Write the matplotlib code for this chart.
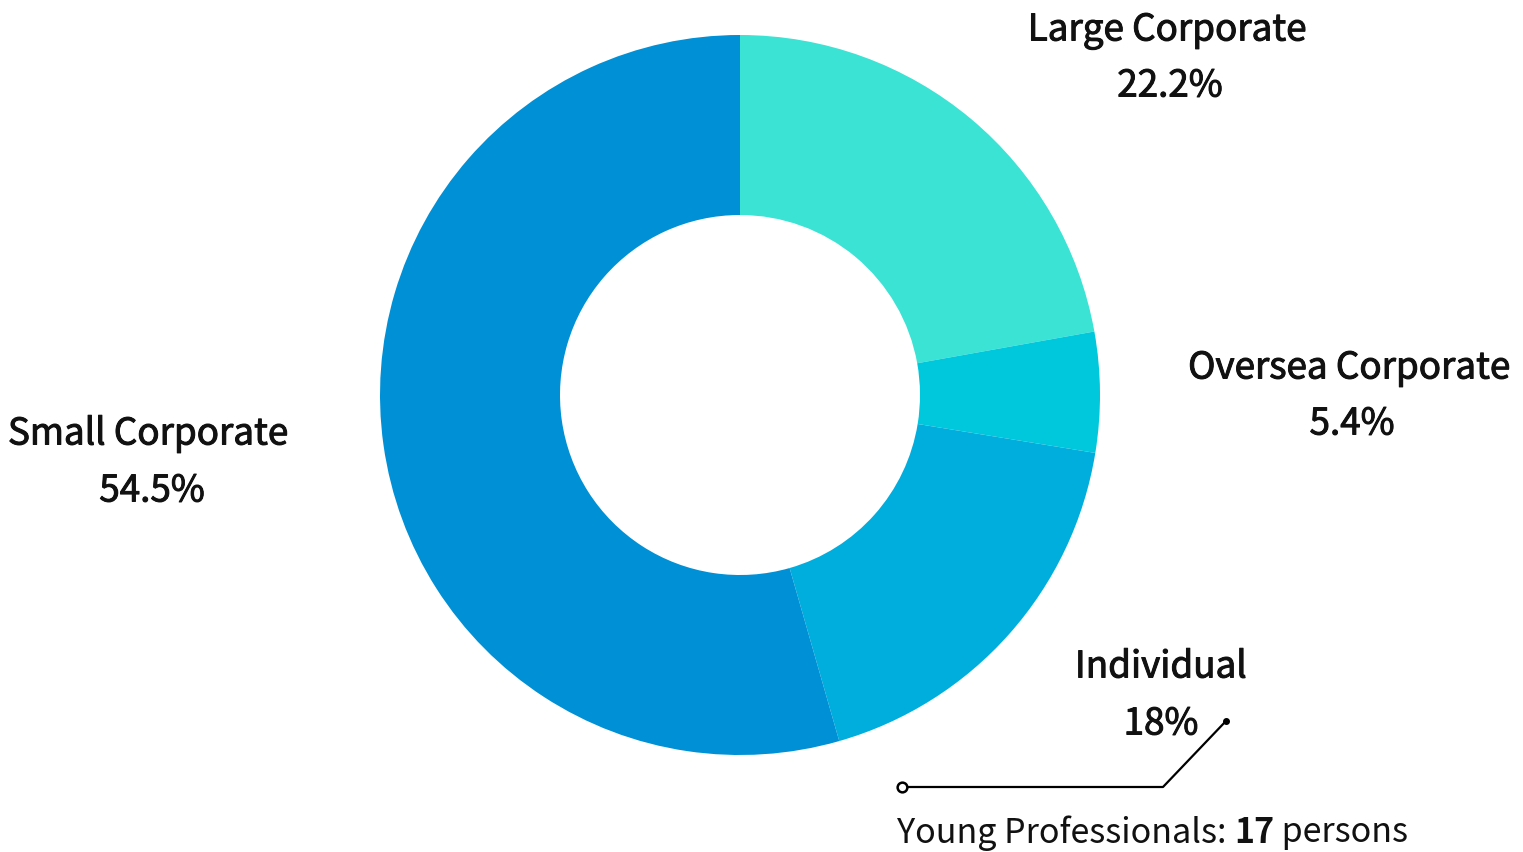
import numpy as np
import matplotlib.pyplot as plt
import matplotlib.patheffects as pe

plt.rcParams['font.family'] = ['Noto Sans CJK SC', 'DejaVu Sans']

# share of customers by segment
labels = ["Large Corporate", "Oversea Corporate", "Individual", "Small Corporate"]
shares = [22.2, 5.4, 18, 54.5]
share_text = ["22.2%", "5.4%", "18%", "54.5%"]
colors = ["#3be3d5", "#00c8dc", "#00aede", "#0090d6"]

young_pros = 17

W, H = 1523, 853
fig = plt.figure(figsize=(W / 100, H / 100), dpi=100)

# donut: centre at (740, 396) px, radius 360 px
cx, cy, R = 740, 396, 360
ax = fig.add_axes([(cx - R) / W, (H - cy - R) / H, 2 * R / W, 2 * R / H])
ax.pie(shares, colors=colors, startangle=90, counterclock=False,
       radius=1, wedgeprops=dict(width=0.5, linewidth=0))
ax.set_xlim(-1, 1)
ax.set_ylim(-1, 1)
ax.set_aspect('equal')
ax.axis('off')


def px(x, y):
    return (x - cx) / R, (cy - y) / R


# slightly heavier than regular for the segment labels
thick = [pe.withStroke(linewidth=0.7, foreground='#111111')]

# label positions in pixels (name line, value line)
label_pos = [(1167, 31, 1170, 87), (1349, 369, 1352, 425),
             (1161, 668, 1161, 725), (148, 435, 152, 492)]
for name, val, (x1, y1, x2, y2) in zip(labels, share_text, label_pos):
    ax.text(*px(x1, y1), name, ha='center', va='center', fontsize=26.5,
            color='#111111', clip_on=False, path_effects=thick)
    ax.text(*px(x2, y2), val, ha='center', va='center', fontsize=26.5,
            color='#111111', clip_on=False, path_effects=thick)

# callout for young professionals
pts = np.array([px(1226, 722), px(1163, 788), px(902, 788)])
ax.plot(pts[:, 0], pts[:, 1], color='black', lw=1.6, clip_on=False)
ax.plot(*pts[0], 'o', color='black', ms=4, clip_on=False)
ax.plot(*pts[2], 'o', mfc='white', mec='black', mew=1.8, ms=7, clip_on=False)
t = ax.text(*px(897, 833), "Young Professionals: ", ha='left', va='center',
            fontsize=24.5, color='#111111', clip_on=False)
fig.canvas.draw()
bb = t.get_window_extent()
num = fig.text(bb.x1 / W, (H - 833) / H, str(young_pros), ha='left', va='center',
               fontsize=24.5, fontweight='bold', color='#111111')
fig.canvas.draw()
bb2 = num.get_window_extent()
fig.text(bb2.x1 / W, (H - 833) / H, " persons", ha='left', va='center',
         fontsize=24.5, color='#111111')

fig.savefig("out.png", dpi=100, facecolor='white')
